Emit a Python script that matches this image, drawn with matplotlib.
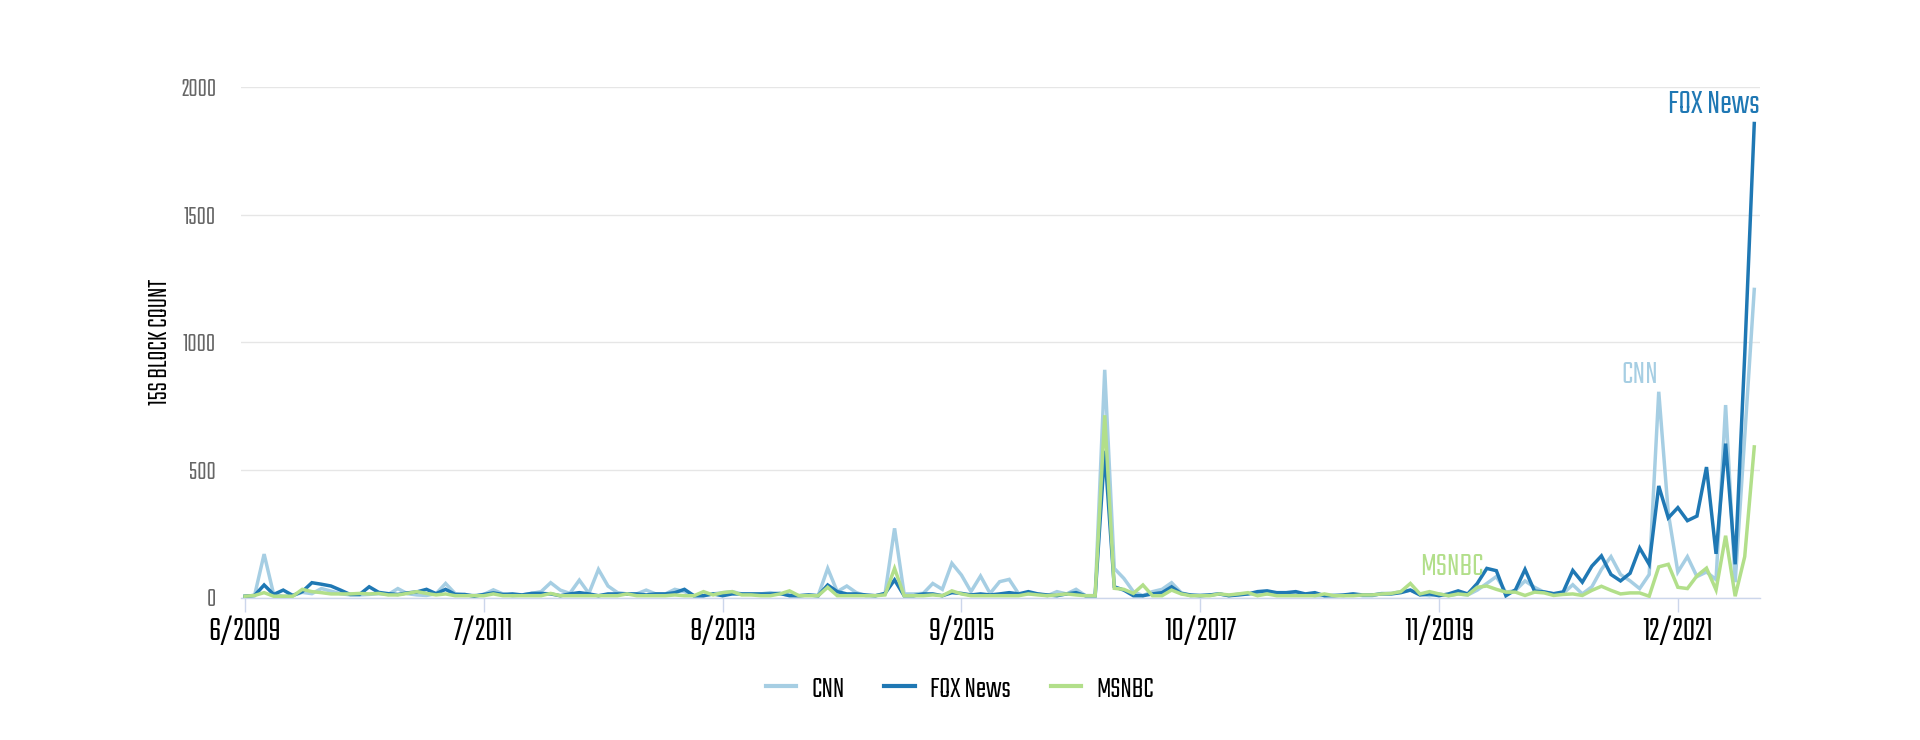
import matplotlib
matplotlib.use("Agg")
import matplotlib.pyplot as plt
import numpy as np

# Monthly values, 6/2009 .. 8/2022
cnn = [5, 8, 170, 12, 5, 8, 20, 15, 35, 25, 15, 10, 10, 12, 15, 12, 35, 15, 10, 8, 15, 55, 15, 10, 8, 12, 30,
       14, 7, 10, 16, 23, 58, 29, 16, 68, 16, 110, 45, 19, 14, 14, 29, 14, 14, 32, 23, 7, 7, 14, 19, 23, 14, 14,
       14, 19, 14, 10, 7, 10, 7, 114, 23, 45, 19, 7, 7, 14, 271, 14, 14, 16, 55, 32, 134, 88, 23, 84, 16, 62, 71,
       14, 14, 14, 7, 23, 14, 32, 7, 7, 892, 114, 75, 23, 7, 23, 32, 58, 19, 7, 10, 10, 14, 7, 14, 14, 14, 14,
       14, 14, 14, 14, 7, 7, 10, 7, 14, 7, 7, 16, 16, 23, 29, 14, 7, 14, 7, 14, 10, 29, 55, 82,
       20, 28, 65, 40, 21, 14, 16, 50, 14, 42, 110, 160, 90, 65, 35, 90, 806, 330, 100, 160, 82, 100, 70, 754, 60, 630, 1207]
fox = [5, 8, 49, 12, 29, 8, 23, 58, 52, 45, 29, 12, 12, 42, 20, 15, 12, 18, 22, 32, 15, 32, 12, 12, 5, 12, 18,
       12, 14, 10, 16, 16, 14, 7, 14, 19, 14, 7, 14, 14, 14, 14, 10, 14, 14, 19, 32, 7, 7, 14, 7, 14, 14, 14,
       14, 14, 16, 7, 7, 10, 7, 49, 23, 14, 14, 10, 7, 16, 69, 7, 7, 14, 14, 7, 19, 16, 10, 14, 10, 14, 19,
       14, 23, 14, 10, 7, 14, 19, 7, 7, 575, 42, 29, 7, 7, 14, 19, 42, 16, 10, 7, 10, 14, 7, 10, 14, 23, 26,
       19, 19, 23, 14, 19, 7, 7, 10, 14, 10, 10, 14, 14, 19, 29, 10, 14, 7, 14, 26, 14, 55, 114, 105,
       7, 30, 110, 25, 22, 15, 22, 106, 60, 123, 163, 90, 65, 95, 194, 130, 437, 312, 352, 301, 319, 511, 171, 603, 130, 950, 1857]
msnbc = [5, 8, 19, 5, 5, 5, 32, 23, 19, 14, 14, 14, 16, 14, 16, 10, 10, 16, 23, 16, 10, 14, 7, 7, 7, 7, 14,
         7, 7, 7, 7, 7, 16, 7, 7, 7, 7, 7, 7, 7, 14, 7, 7, 7, 7, 10, 7, 7, 23, 10, 19, 23, 10, 10,
         7, 7, 14, 26, 7, 7, 7, 40, 7, 7, 7, 7, 7, 10, 114, 7, 7, 7, 10, 7, 26, 14, 7, 7, 7, 7, 7,
         7, 14, 10, 7, 10, 14, 10, 7, 7, 714, 36, 32, 16, 49, 7, 7, 29, 14, 7, 7, 7, 14, 10, 14, 19, 7, 14,
         7, 7, 7, 7, 7, 14, 7, 7, 7, 10, 10, 14, 16, 23, 55, 14, 23, 14, 7, 14, 10, 40, 45, 32,
         21, 21, 8, 21, 18, 8, 12, 14, 8, 28, 44, 28, 14, 18, 18, 5, 120, 130, 40, 35, 85, 115, 30, 242, 5, 160, 590]

series_names = ["CNN", "FOX News", "MSNBC"]
colors = ["#a6cee3", "#1f78b4", "#b2df8a"]
tick_pos = [0, 25, 50, 75, 100, 125, 150]
tick_labels = ["6/2009", "7/2011", "8/2013", "9/2015", "10/2017", "11/2019", "12/2021"]
y_ticks = [0, 500, 1000, 1500, 2000]

FONT = ["Teko", "Oswald", "DejaVu Sans"]
plt.rcParams["font.family"] = FONT

fig = plt.figure(figsize=(19.2, 7.4), dpi=100)
W, H = 1920, 740
left, right, top, bottom = 241, 1760, 87, 597.5
ax = fig.add_axes([left / W, 1 - bottom / H, (right - left) / W, (bottom - top) / H])

x = np.arange(len(cnn))
for vals, name, c in zip([cnn, fox, msnbc], series_names, colors):
    ax.plot(x, vals, color=c, lw=2.5, label=name, solid_joinstyle="miter", zorder=3)

ax.set_xlim(-0.42, 158.6)
ax.set_ylim(0, 2000)
ax.set_yticks(y_ticks)
ax.set_yticklabels([str(v) for v in y_ticks], color="#666666", fontsize=18.5)
ax.set_xticks(tick_pos)
ax.set_xticklabels(tick_labels, fontsize=25, color="#000000")
ax.tick_params(axis="y", length=0, pad=18)
ax.tick_params(axis="x", length=10, width=1, color="#ccd6eb", pad=3)
ax.grid(axis="y", color="#e6e6e6", lw=1, zorder=0)
for s in ["top", "right", "left"]:
    ax.spines[s].set_visible(False)
ax.spines["bottom"].set_color("#ccd6eb")
ax.spines["bottom"].set_linewidth(1)
ax.set_ylabel("15S BLOCK COUNT", fontsize=20, color="#000000")
ax.yaxis.set_label_coords(-0.046, 0.5)

ax.text(158.6, 1932, "FOX News", color=colors[1], fontsize=25, ha="right", va="center")
ax.text(146.0, 873, "CNN", color=colors[0], fontsize=24, ha="center", va="center")
ax.text(126.3, 120, "MSNBC", color=colors[2], fontsize=24, ha="center", va="center")

leg = fig.legend(loc="center", bbox_to_anchor=(0.5, 1 - 688 / H), ncol=3, frameon=False,
                 fontsize=22, handlelength=1.0, handletextpad=0.5, columnspacing=1.3)
for line in leg.get_lines():
    line.set_linewidth(3)

fig.savefig("out.png", dpi=100)
